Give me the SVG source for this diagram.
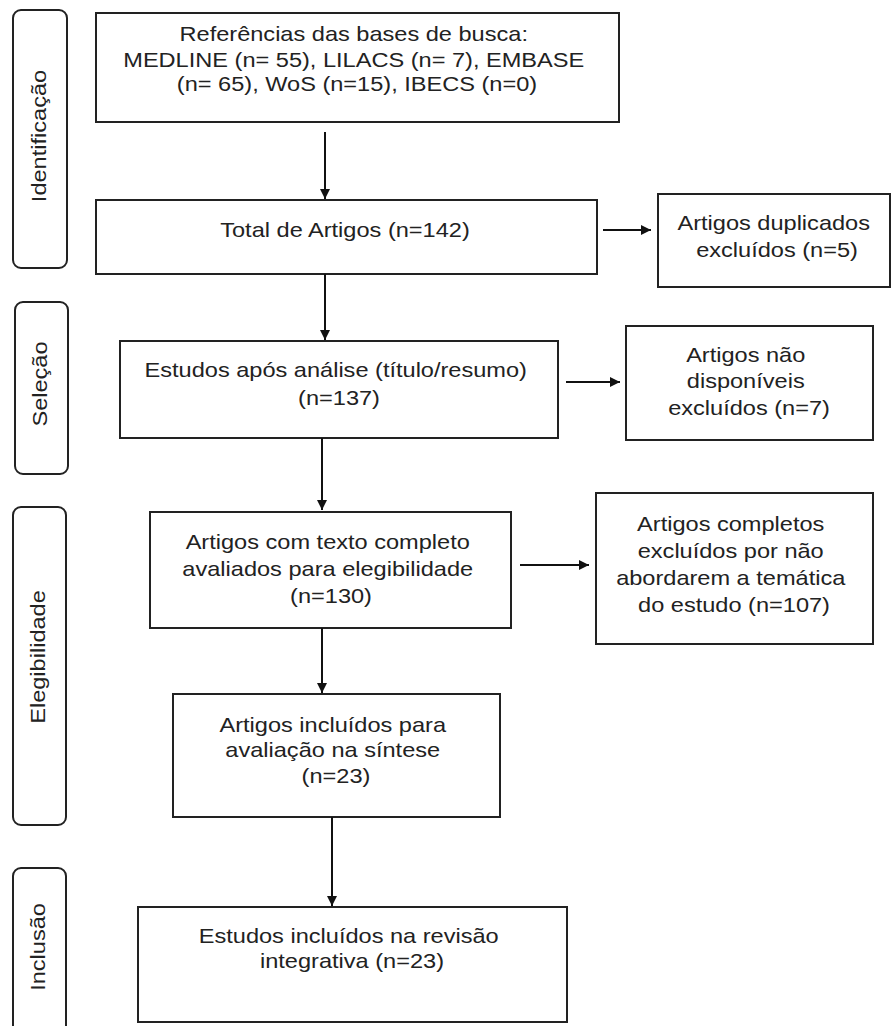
<svg xmlns="http://www.w3.org/2000/svg" width="892" height="1026" viewBox="0 0 892 1026">
  <style>
    .box { fill: #ffffff; stroke: #222222; stroke-width: 2; }
    .side { fill: #ffffff; stroke: #222222; stroke-width: 2; }
    .t { font-family: "Liberation Sans", Arial, sans-serif; font-size: 20.5px; fill: #222222; text-anchor: middle; }
    .conn line { stroke: #111111; stroke-width: 2; marker-end: url(#arrow); }
  </style>
  <defs>
    <marker id="arrow" markerUnits="userSpaceOnUse" markerWidth="11" markerHeight="11" refX="10" refY="5" orient="auto">
      <path d="M0,0 L10,5 L0,10 z" fill="#111111"/>
    </marker>
  </defs>
  <rect width="892" height="1026" fill="#ffffff"/>

  <g id="phase-identificacao">
    <rect class="side" x="13" y="10" width="54" height="258" rx="8"/>
    <text class="t" transform="translate(46,136) rotate(-90) scale(1.15,1)" x="0" y="0">Identificação</text>
  </g>
  <g id="phase-selecao">
    <rect class="side" x="15" y="302" width="53" height="172" rx="8"/>
    <text class="t" transform="translate(47,384) rotate(-90) scale(1.15,1)" x="0" y="0">Seleção</text>
  </g>
  <g id="phase-elegibilidade">
    <rect class="side" x="13" y="507" width="53" height="318" rx="8"/>
    <text class="t" transform="translate(45,657) rotate(-90) scale(1.15,1)" x="0" y="0">Elegibilidade</text>
  </g>
  <g id="phase-inclusao">
    <rect class="side" x="13" y="868" width="53" height="170" rx="8"/>
    <text class="t" transform="translate(45,947) rotate(-90) scale(1.15,1)" x="0" y="0">Inclusão</text>
  </g>

  <g id="node-referencias">
    <rect class="box" x="96" y="13" width="523" height="109"/>
    <text class="t" transform="translate(357,0) scale(1.15,1)">
      <tspan x="0" y="41">Referências das bases de busca:</tspan>
      <tspan x="0" y="67">MEDLINE (n= 55), LILACS (n= 7), EMBASE</tspan>
      <tspan x="0" y="91">(n= 65), WoS (n=15), IBECS (n=0)</tspan>
    </text>
  </g>
  <g id="node-total">
    <rect class="box" x="96" y="200" width="501" height="74"/>
    <text class="t" transform="translate(345,0) scale(1.15,1)">
      <tspan x="0" y="237">Total de Artigos (n=142)</tspan>
    </text>
  </g>
  <g id="node-duplicados">
    <rect class="box" x="658" y="194" width="232" height="93"/>
    <text class="t" transform="translate(777,0) scale(1.15,1)">
      <tspan x="0" y="230">Artigos duplicados</tspan>
      <tspan x="0" y="257">excluídos (n=5)</tspan>
    </text>
  </g>
  <g id="node-estudos-analise">
    <rect class="box" x="120" y="341" width="438" height="97"/>
    <text class="t" transform="translate(339,0) scale(1.15,1)">
      <tspan x="0" y="377">Estudos após análise (título/resumo)</tspan>
      <tspan x="0" y="405">(n=137)</tspan>
    </text>
  </g>
  <g id="node-nao-disponiveis">
    <rect class="box" x="626" y="326" width="247" height="114"/>
    <text class="t" transform="translate(749,0) scale(1.15,1)">
      <tspan x="0" y="362">Artigos não</tspan>
      <tspan x="0" y="388">disponíveis</tspan>
      <tspan x="0" y="415">excluídos (n=7)</tspan>
    </text>
  </g>
  <g id="node-texto-completo">
    <rect class="box" x="150" y="512" width="361" height="116"/>
    <text class="t" transform="translate(331,0) scale(1.15,1)">
      <tspan x="0" y="549">Artigos com texto completo</tspan>
      <tspan x="0" y="576">avaliados para elegibilidade</tspan>
      <tspan x="0" y="603">(n=130)</tspan>
    </text>
  </g>
  <g id="node-completos-excluidos">
    <rect class="box" x="596" y="493" width="277" height="151"/>
    <text class="t" transform="translate(734,0) scale(1.15,1)">
      <tspan x="0" y="531">Artigos completos</tspan>
      <tspan x="0" y="558">excluídos por não</tspan>
      <tspan x="0" y="585">abordarem a temática</tspan>
      <tspan x="0" y="612">do estudo (n=107)</tspan>
    </text>
  </g>
  <g id="node-sintese">
    <rect class="box" x="173" y="694" width="327" height="123"/>
    <text class="t" transform="translate(336,0) scale(1.15,1)">
      <tspan x="0" y="732">Artigos incluídos para</tspan>
      <tspan x="0" y="757">avaliação na síntese</tspan>
      <tspan x="0" y="783">(n=23)</tspan>
    </text>
  </g>
  <g id="node-inclusao">
    <rect class="box" x="138" y="907" width="429" height="115"/>
    <text class="t" transform="translate(352,0) scale(1.15,1)">
      <tspan x="0" y="943">Estudos incluídos na revisão</tspan>
      <tspan x="0" y="968">integrativa (n=23)</tspan>
    </text>
  </g>

  <g id="connectors" class="conn">
    <line x1="325" y1="132" x2="325" y2="199"/>
    <line x1="325" y1="274" x2="325" y2="340"/>
    <line x1="322" y1="438" x2="322" y2="510"/>
    <line x1="322" y1="628" x2="322" y2="693"/>
    <line x1="332" y1="817" x2="332" y2="906"/>
    <line x1="603" y1="230" x2="651" y2="230"/>
    <line x1="566" y1="382" x2="620" y2="382"/>
    <line x1="520" y1="565" x2="589" y2="565"/>
  </g>
</svg>
